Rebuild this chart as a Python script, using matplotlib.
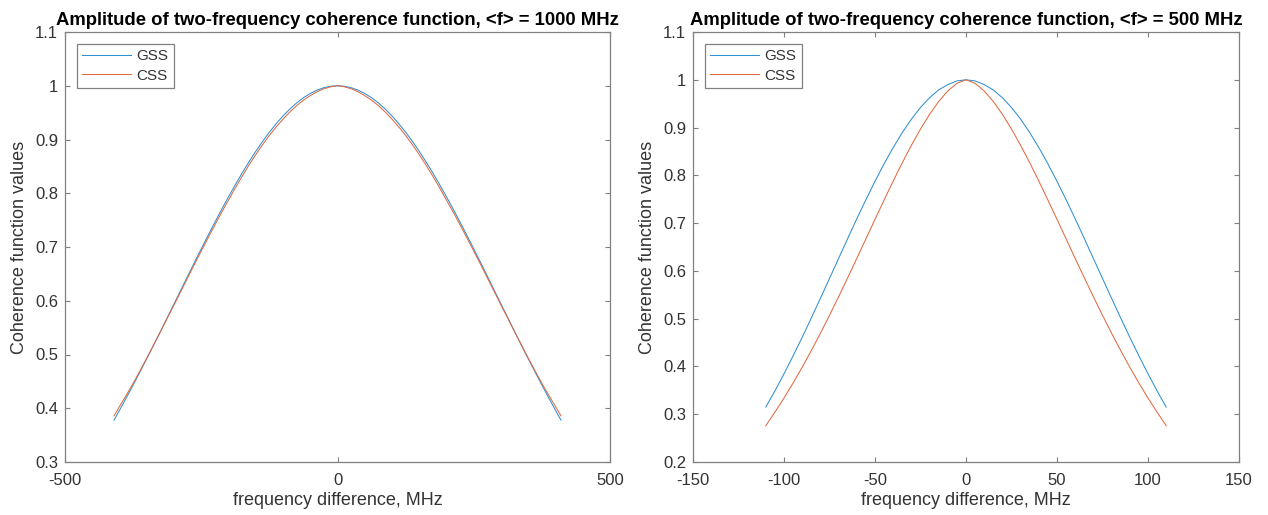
import matplotlib
matplotlib.use("Agg")
import matplotlib.pyplot as plt
from matplotlib.ticker import FuncFormatter

# ---------------- data ----------------
# Both panels are symmetric about 0; values are listed for df >= 0.
# Left panel: <f> = 1000 MHz
df_1000_pos = [0, 12.5, 25, 37.5, 50, 62.5, 75, 87.5, 100, 112.5, 125, 137.5, 150,
               162.5, 175, 187.5, 200, 212.5, 225, 237.5, 250, 262.5, 275, 287.5,
               300, 312.5, 325, 337.5, 350, 362.5, 375, 387.5, 400, 410]
gss_1000_pos = [1.0, 0.9991, 0.9964, 0.9919, 0.9856, 0.9777, 0.968, 0.9567, 0.9438,
                0.9294, 0.9136, 0.8964, 0.8779, 0.8583, 0.8376, 0.8159, 0.7933,
                0.7701, 0.746, 0.7215, 0.6965, 0.6712, 0.6456, 0.6198, 0.594,
                0.5683, 0.5427, 0.5173, 0.4922, 0.4675, 0.4432, 0.4194, 0.3962, 0.378]
css_1000_pos = [1.0, 0.9981, 0.9944, 0.9889, 0.9816, 0.9732, 0.963, 0.9512, 0.9378,
                0.9234, 0.9076, 0.8904, 0.8719, 0.8523, 0.8316, 0.8099, 0.7873,
                0.7646, 0.741, 0.717, 0.6925, 0.6677, 0.6426, 0.6173, 0.592,
                0.5673, 0.5422, 0.5176, 0.4932, 0.4695, 0.4462, 0.4244, 0.4032, 0.386]

# Right panel: <f> = 500 MHz
df_500_pos = [0, 5, 10, 15, 20, 25, 30, 35, 40, 45, 50, 55, 60, 65, 70, 75, 80,
              85, 90, 95, 100, 105, 110]
gss_500_pos = [1.0, 0.9976, 0.99, 0.9787, 0.9625, 0.942, 0.9176, 0.8895, 0.8582,
               0.8241, 0.7875, 0.749, 0.709, 0.6678, 0.626, 0.5842, 0.5425, 0.5014,
               0.461, 0.4222, 0.3846, 0.3487, 0.315]
css_500_pos = [1.0, 0.9926, 0.9766, 0.9546, 0.9277, 0.8969, 0.8629, 0.8264, 0.788,
               0.7484, 0.7079, 0.667, 0.626, 0.5857, 0.5459, 0.5071, 0.4694, 0.4332,
               0.3984, 0.3653, 0.3339, 0.3043, 0.276]

series_labels = ["GSS", "CSS"]
titles = ["Amplitude of two-frequency coherence function, <f> = 1000 MHz",
          "Amplitude of two-frequency coherence function, <f> = 500 MHz"]
xlabel = "frequency difference, MHz"
ylabel = "Coherence function values"
xticks_l = [-500, 0, 500]
yticks_l = [0.3, 0.4, 0.5, 0.6, 0.7, 0.8, 0.9, 1.0, 1.1]
xticks_r = [-150, -100, -50, 0, 50, 100, 150]
yticks_r = [0.2, 0.3, 0.4, 0.5, 0.6, 0.7, 0.8, 0.9, 1.0, 1.1]


def mirror_x(pos):
    return [-v for v in pos[:0:-1]] + list(pos)


def mirror_y(pos):
    return list(pos[:0:-1]) + list(pos)


# ---------------- style ----------------
plt.rcParams['font.family'] = ['Liberation Sans', 'DejaVu Sans']
plt.rcParams['axes.unicode_minus'] = False
BLUE = '#2f8fd3'
ORANGE = '#e06a40'
AXC = '#808080'
TXT = '#333333'

W, H = 1268, 515
fig = plt.figure(figsize=(W / 100, H / 100), dpi=100)

ax_l = fig.add_axes([65 / W, (H - 462) / H, 545 / W, 430 / H])
ax_r = fig.add_axes([693 / W, (H - 462) / H, 546 / W, 430 / H])

fmt = FuncFormatter(lambda v, p: ('%g' % round(v, 6)))


def setup(ax, x, g, c, title, xt, yt, xlim, ylim):
    ax.plot(x, g, color=BLUE, lw=0.75, label=series_labels[0])
    ax.plot(x, c, color=ORANGE, lw=0.75, label=series_labels[1])
    ax.set_xlim(*xlim)
    ax.set_ylim(*ylim)
    ax.set_xticks(xt)
    ax.set_yticks(yt)
    ax.xaxis.set_major_formatter(fmt)
    ax.yaxis.set_major_formatter(fmt)
    for s in ax.spines.values():
        s.set_color(AXC)
        s.set_linewidth(0.9)
    ax.tick_params(direction='in', length=3.5, width=0.8, color=AXC,
                   labelcolor=TXT, labelsize=12, top=True, right=True)
    ax.tick_params(axis='x', pad=8)
    ax.tick_params(axis='y', pad=5)
    ax.set_title(title, fontsize=13.3, fontweight='bold', color='black', pad=5)
    ax.set_xlabel(xlabel, fontsize=13, color=TXT, labelpad=3)
    ax.set_ylabel(ylabel, fontsize=13, color=TXT, labelpad=5)
    leg = ax.legend(loc='upper left', bbox_to_anchor=(12 / 545, 1 - 12 / 430),
                    borderaxespad=0, fontsize=11, fancybox=False, framealpha=1,
                    edgecolor=AXC, handlelength=3.2, handletextpad=0.35,
                    labelspacing=0.35, borderpad=0.35)
    leg.get_frame().set_linewidth(0.9)
    for t in leg.get_texts():
        t.set_color(TXT)


setup(ax_l, mirror_x(df_1000_pos), mirror_y(gss_1000_pos), mirror_y(css_1000_pos),
      titles[0], xticks_l, yticks_l, (-500, 500), (0.3, 1.1))
setup(ax_r, mirror_x(df_500_pos), mirror_y(gss_500_pos), mirror_y(css_500_pos),
      titles[1], xticks_r, yticks_r, (-150, 150), (0.2, 1.1))

fig.savefig('out.png', dpi=100)
